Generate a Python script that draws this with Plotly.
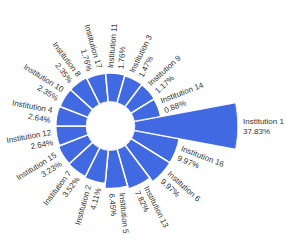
import math
import plotly.graph_objects as go

# ---- data ----
institutions = ["Institution 1", "Institution 16", "Institution 6", "Institution 13",
                "Institution 5", "Institution 2", "Institution 7", "Institution 15",
                "Institution 12", "Institution 4", "Institution 10", "Institution 8",
                "Institution 17", "Institution 11", "Institution 3", "Institution 9",
                "Institution 14"]
shares = [37.83, 9.97, 9.97, 7.82, 6.45, 4.11, 3.52, 3.23, 2.64, 2.64,
          2.35, 2.35, 1.76, 1.76, 1.47, 1.17, 0.88]

# ---- geometry / style ----
W_FIG, H_FIG = 287, 250
CX, CY = 110.5, 124.0          # centre of the ring (px, y from bottom)
HOLE_PX = 24.0
PX_PER_UNIT = 2.07
R_MIN = -12.2                  # radial axis start (at the hole edge)
R_MAX_INNER = 12.0             # range of the main polar
BAR_COLOR = "#4169E1"
FONT = dict(family="Arial, Liberation Sans, sans-serif", size=8, color="#333333")
GAP = 5.0

n = len(shares)
step = 360.0 / n
thetas = [i * step for i in range(n)]


def rpx(v):
    return HOLE_PX + (v - R_MIN) * PX_PER_UNIT


R1 = rpx(R_MAX_INNER)
R2 = rpx(max(shares))

inner_idx = [i for i in range(n) if shares[i] <= R_MAX_INNER]
outer_idx = [i for i in range(n) if shares[i] > R_MAX_INNER]

fig = go.Figure()
fig.add_trace(go.Barpolar(
    r=[shares[i] - R_MIN for i in inner_idx],
    base=R_MIN,
    theta=[thetas[i] for i in inner_idx],
    width=step,
    marker=dict(color=BAR_COLOR, line=dict(color="white", width=1.5)),
    text=[institutions[i] for i in inner_idx],
    hoverinfo="text",
    subplot="polar",
))
fig.add_trace(go.Barpolar(
    r=[shares[i] - R_MIN for i in outer_idx],
    base=R_MIN,
    theta=[thetas[i] for i in outer_idx],
    width=step,
    marker=dict(color=BAR_COLOR, line=dict(color="white", width=1.5)),
    text=[institutions[i] for i in outer_idx],
    hoverinfo="text",
    subplot="polar2",
))

common_angular = dict(visible=False, direction="clockwise", rotation=0, thetaunit="degrees")

fig.update_layout(
    width=W_FIG, height=H_FIG,
    margin=dict(l=0, r=0, t=0, b=0),
    paper_bgcolor="white",
    showlegend=False,
    polar=dict(
        domain=dict(x=[(CX - R1) / W_FIG, (CX + R1) / W_FIG],
                    y=[(CY - R1) / H_FIG, (CY + R1) / H_FIG]),
        hole=HOLE_PX / R1,
        bgcolor="rgba(0,0,0,0)",
        radialaxis=dict(visible=False, range=[R_MIN, R_MAX_INNER]),
        angularaxis=dict(**common_angular),
    ),
    polar2=dict(
        domain=dict(x=[CX / W_FIG, (CX + R2) / W_FIG],
                    y=[(CY - 40) / H_FIG, (CY + 40) / H_FIG]),
        sector=[-11, 11],
        hole=HOLE_PX / R2,
        bgcolor="rgba(0,0,0,0)",
        radialaxis=dict(visible=False, range=[R_MIN, max(shares)]),
        angularaxis=dict(**common_angular),
    ),
)


# ---- labels ----
def text_width(s, size):
    w = {"I": 0.278, "n": 0.556, "s": 0.5, "t": 0.278, "i": 0.222, "u": 0.556,
         "o": 0.556, " ": 0.278, ".": 0.278, "%": 0.889}
    return sum(w.get(c, 0.556) for c in s) * size


annotations = []
for i in range(n):
    theta_screen = -thetas[i]          # counter-clockwise on screen
    a = math.radians(theta_screen)
    label = f"{institutions[i]}<br>{shares[i]:.2f}%"
    wid = max(text_width(institutions[i], FONT["size"]),
              text_width(f"{shares[i]:.2f}%", FONT["size"]))
    rc = rpx(shares[i]) + GAP + wid / 2
    if math.cos(a) > 0:
        angle = -theta_screen
        align = "left"
    else:
        angle = 180 - theta_screen
        align = "right"
    angle = ((angle + 180) % 360) - 180
    annotations.append(dict(
        x=(CX + rc * math.cos(a)) / W_FIG,
        y=(CY + rc * math.sin(a)) / H_FIG,
        xref="paper", yref="paper",
        text=label, showarrow=False,
        textangle=angle, align=align,
        xanchor="center", yanchor="middle",
        borderpad=0, borderwidth=0,
        font=FONT,
    ))
fig.update_layout(annotations=annotations)

# remove the default page margin so the figure fills the 287x250 window exactly
fig.write_html(
    "out.html",
    config={"displayModeBar": False},
    post_script="document.body.style.margin='0';"
                "document.documentElement.style.overflow='hidden';",
)
